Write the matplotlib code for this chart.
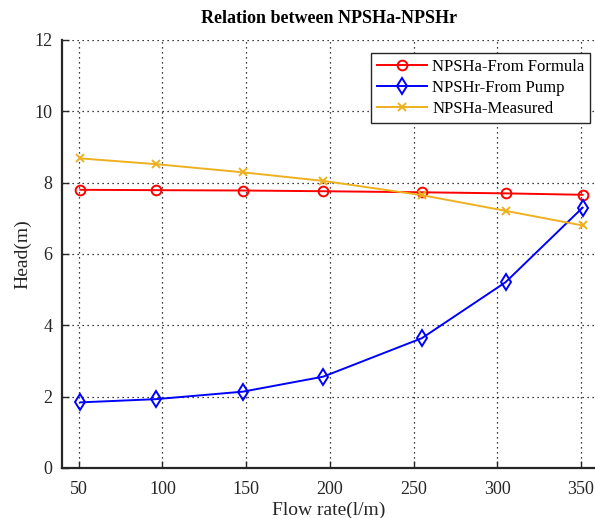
import matplotlib
matplotlib.use("Agg")
import matplotlib.pyplot as plt

plt.rcParams["font.family"] = ["Liberation Serif", "DejaVu Serif"]

flow = [51, 96, 148, 196, 255, 305, 351]
npsha_formula = [7.80, 7.79, 7.78, 7.76, 7.73, 7.70, 7.66]
npshr_pump = [1.84, 1.93, 2.14, 2.56, 3.64, 5.21, 7.30]
npsha_measured = [8.68, 8.52, 8.29, 8.05, 7.65, 7.21, 6.80]

RED = "#ff0000"
BLUE = "#0000ff"
YEL = "#edb120"

fig = plt.figure(figsize=(5.95, 5.18), dpi=100)
ax = fig.add_axes([62 / 595, 50 / 518, 534 / 595, 428 / 518])

ax.plot(flow, npsha_formula, "-o", color=RED, mfc="none", ms=7, mew=1.4, lw=1.4,
        label="NPSHa-From Formula")
ax.plot(flow, npshr_pump, "-d", color=BLUE, mfc="none", ms=8, mew=1.4, lw=1.4,
        label="NPSHr-From Pump")
ax.plot(flow, npsha_measured, "-x", color=YEL, ms=6, mew=1.4, lw=1.4,
        label="NPSHa-Measured")

ax.set_xlim(40, 359)
ax.set_ylim(0, 12)
ax.set_xticks([50, 100, 150, 200, 250, 300, 350])
ax.set_yticks([0, 2, 4, 6, 8, 10, 12])
ax.tick_params(direction="in", labelsize=13, length=5, width=1, colors="#262626")
ax.tick_params(axis="x", pad=9)
ax.tick_params(axis="y", pad=7)
ax.grid(True, linestyle=(0, (1, 3)), color="black", lw=0.9)
for s in ("top", "right"):
    ax.spines[s].set_visible(False)
for s in ("left", "bottom"):
    ax.spines[s].set_linewidth(1.6)
    ax.spines[s].set_color("#262626")

ax.set_xlabel("Flow rate(l/m)", fontsize=14, color="#262626", labelpad=3)
ax.set_ylabel("Head(m)", fontsize=14, color="#262626", labelpad=2)
ax.set_title("Relation between NPSHa-NPSHr", fontsize=13, fontweight="bold", pad=12)

leg = ax.legend(loc="upper right", fontsize=12, fancybox=False, framealpha=1,
                edgecolor="#262626", handlelength=3, handletextpad=0.3,
                labelspacing=0.3, borderpad=0.35, borderaxespad=0,
                bbox_to_anchor=(0.989, 0.97))
leg.get_frame().set_linewidth(1.0)

fig.savefig("out.png", dpi=100)
